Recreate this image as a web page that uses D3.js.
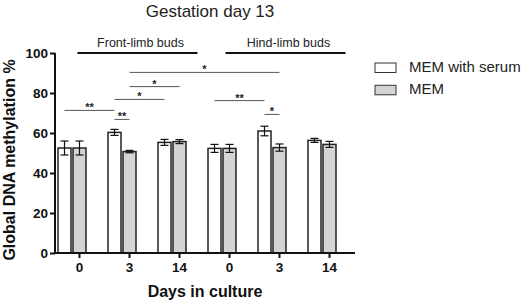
<!DOCTYPE html>
<html>
<head>
<meta charset="utf-8">
<script src="https://d3js.org/d3.v7.min.js"></script>
<style>
  body { margin: 0; background: #fff; }
  svg { display: block; font-family: "Liberation Sans", Arial, Helvetica, sans-serif; }
</style>
</head>
<body>
<div id="chart"></div>
<script>
// days in culture for each group (front-limb: 0,3,14 then hind-limb: 0,3,14)
var days = ['0', '3', '14', '0', '3', '14'];
var seriesNames = ['MEM with serum', 'MEM'];
var seriesFill = ['#ffffff', '#d4d4d4'];

var serumMean = [52.5, 60.3, 55.3, 52.3, 61.0, 56.3];
var serumErr  = [3.5, 1.5, 1.5, 2.0, 2.4, 1.0];
var memMean   = [52.5, 50.7, 55.7, 52.3, 52.7, 54.3];
var memErr    = [3.5, 0.6, 1.0, 2.0, 1.8, 1.5];

var yTicks = [0, 20, 40, 60, 80, 100];

// significance brackets: [group, series] -> [group, series], level on y, label
var comparisons = [
    { a: [0, 0], b: [1, 0], level: 71.3, label: '**' },
    { a: [1, 0], b: [1, 1], level: 66.8, label: '**' },
    { a: [1, 0], b: [2, 0], level: 76.8, label: '*' },
    { a: [1, 1], b: [2, 1], level: 83.2, label: '*' },
    { a: [1, 1], b: [4, 1], level: 90.3, label: '*' },
    { a: [3, 0], b: [4, 0], level: 76.2, label: '**' },
    { a: [4, 0], b: [4, 1], level: 69.3, label: '*' }
];

// tissue labels spanning groups (in group units)
var tissues = [
    { name: 'Front-limb buds', from: 0.45, to: 2.85 },
    { name: 'Hind-limb buds', from: 3.41, to: 5.81 }
];

function drawChart() {
    var data = days.map(function(d, i) {
        return { i: i, day: d, values: [
            { s: 0, mean: serumMean[i], err: serumErr[i] },
            { s: 1, mean: memMean[i], err: memErr[i] }
        ] };
    });

    var W = 528, H = 302;
    var pLeft = 55, pRight = 355, pTop = 53, pBottom = 253;

    var svg = d3.select('#chart')
        .append('svg')
        .attr('width', W)
        .attr('height', H);

    var xScale = d3.scaleBand()
        .domain(d3.range(days.length))
        .range([pLeft, pRight]);

    var xInner = d3.scaleBand()
        .domain([0, 1])
        .range([3, 31])
        .paddingInner(2 / 15);

    var yScale = d3.scaleLinear()
        .domain([0, 100])
        .range([pBottom, pTop]);

    function barCenter(g, s) {
        return xScale(g) + xInner(s) + xInner.bandwidth() / 2;
    }

    // title
    svg.append('text')
        .attr('x', 210)
        .attr('y', 17)
        .attr('text-anchor', 'middle')
        .attr('font-size', '17px')
        .attr('fill', '#222')
        .text('Gestation day 13');

    // bars
    var groups = svg.selectAll('.grp')
        .data(data)
        .enter()
        .append('g')
        .attr('class', 'grp')
        .attr('transform', d => 'translate(' + xScale(d.i) + ',0)');

    groups.selectAll('rect')
        .data(d => d.values)
        .enter()
        .append('rect')
        .attr('x', d => xInner(d.s))
        .attr('y', d => yScale(d.mean))
        .attr('width', xInner.bandwidth())
        .attr('height', d => yScale(0) - yScale(d.mean))
        .attr('fill', d => seriesFill[d.s])
        .attr('stroke', '#222')
        .attr('stroke-width', 1.5);

    // error bars
    var eb = groups.selectAll('.err')
        .data(d => d.values)
        .enter()
        .append('g')
        .attr('class', 'err')
        .attr('stroke', '#111')
        .attr('stroke-width', 1.2);

    eb.append('line')
        .attr('x1', d => xInner(d.s) + xInner.bandwidth() / 2)
        .attr('x2', d => xInner(d.s) + xInner.bandwidth() / 2)
        .attr('y1', d => yScale(d.mean + d.err))
        .attr('y2', d => yScale(d.mean - d.err));
    [1, -1].forEach(function(sign) {
        eb.append('line')
            .attr('x1', d => xInner(d.s) + xInner.bandwidth() / 2 - 4)
            .attr('x2', d => xInner(d.s) + xInner.bandwidth() / 2 + 4)
            .attr('y1', d => yScale(d.mean + sign * d.err))
            .attr('y2', d => yScale(d.mean + sign * d.err));
    });

    // axes
    var yAxis = svg.append('g')
        .attr('transform', 'translate(' + pLeft + ',0)')
        .call(d3.axisLeft(yScale).tickValues(yTicks).tickSize(5).tickPadding(2));

    var xAxis = svg.append('g')
        .attr('transform', 'translate(0,' + pBottom + ')')
        .call(d3.axisBottom(xScale).tickSize(5).tickPadding(4).tickFormat(i => days[i]));

    // ticks sit under the MEM bar
    xAxis.selectAll('.tick')
        .attr('transform', i => 'translate(' + barCenter(i, 1) + ',0)');

    [yAxis, xAxis].forEach(function(ax) {
        ax.select('.domain').attr('stroke', '#111').attr('stroke-width', 2);
        ax.selectAll('.tick line').attr('stroke', '#111').attr('stroke-width', 2);
        ax.selectAll('.tick text')
            .attr('fill', '#111')
            .attr('font-size', '13.5px')
            .attr('font-weight', 'bold')
            .attr('font-family', '"Liberation Sans", Arial, sans-serif');
    });
    xAxis.select('.domain').attr('d', 'M' + pLeft + ',0H' + pRight);
    yAxis.select('.domain').attr('d', 'M0,' + pBottom + 'V' + pTop);

    // axis titles
    svg.append('text')
        .attr('transform', 'translate(15,160) rotate(-90)')
        .attr('text-anchor', 'middle')
        .attr('font-size', '16px')
        .attr('font-weight', 'bold')
        .attr('fill', '#111')
        .text('Global DNA methylation %');

    svg.append('text')
        .attr('x', (pLeft + pRight) / 2)
        .attr('y', 297)
        .attr('text-anchor', 'middle')
        .attr('font-size', '16px')
        .attr('font-weight', 'bold')
        .attr('fill', '#111')
        .text('Days in culture');

    // tissue labels
    var step = xScale.step();
    tissues.forEach(function(t) {
        var x1 = pLeft + t.from * step, x2 = pLeft + t.to * step;
        svg.append('line')
            .attr('x1', x1).attr('x2', x2)
            .attr('y1', yScale(100)).attr('y2', yScale(100))
            .attr('stroke', '#111')
            .attr('stroke-width', 2);
        svg.append('text')
            .attr('x', (x1 + x2) / 2 + 3)
            .attr('y', 47)
            .attr('text-anchor', 'middle')
            .attr('font-size', '12.5px')
            .attr('fill', '#222')
            .text(t.name);
    });

    // significance lines
    comparisons.forEach(function(c) {
        var x1 = barCenter(c.a[0], c.a[1]), x2 = barCenter(c.b[0], c.b[1]);
        var y = yScale(c.level);
        svg.append('line')
            .attr('x1', x1).attr('x2', x2)
            .attr('y1', y).attr('y2', y)
            .attr('stroke', '#555')
            .attr('stroke-width', 1);
        svg.append('text')
            .attr('x', (x1 + x2) / 2)
            .attr('y', y + 1)
            .attr('text-anchor', 'middle')
            .attr('font-size', '11px')
            .attr('font-weight', 'bold')
            .attr('fill', '#222')
            .text(c.label);
    });

    // legend
    var legend = svg.selectAll('.leg')
        .data(seriesNames)
        .enter()
        .append('g')
        .attr('class', 'leg')
        .attr('transform', (d, i) => 'translate(375,' + (63 + i * 22.3) + ')');

    legend.append('rect')
        .attr('width', 21)
        .attr('height', 9.5)
        .attr('fill', (d, i) => seriesFill[i])
        .attr('stroke', '#333')
        .attr('stroke-width', 1);

    legend.append('text')
        .attr('x', 34)
        .attr('y', 9)
        .attr('font-size', '15px')
        .attr('fill', '#222')
        .text(d => d);
}

drawChart();
</script>
</body>
</html>
